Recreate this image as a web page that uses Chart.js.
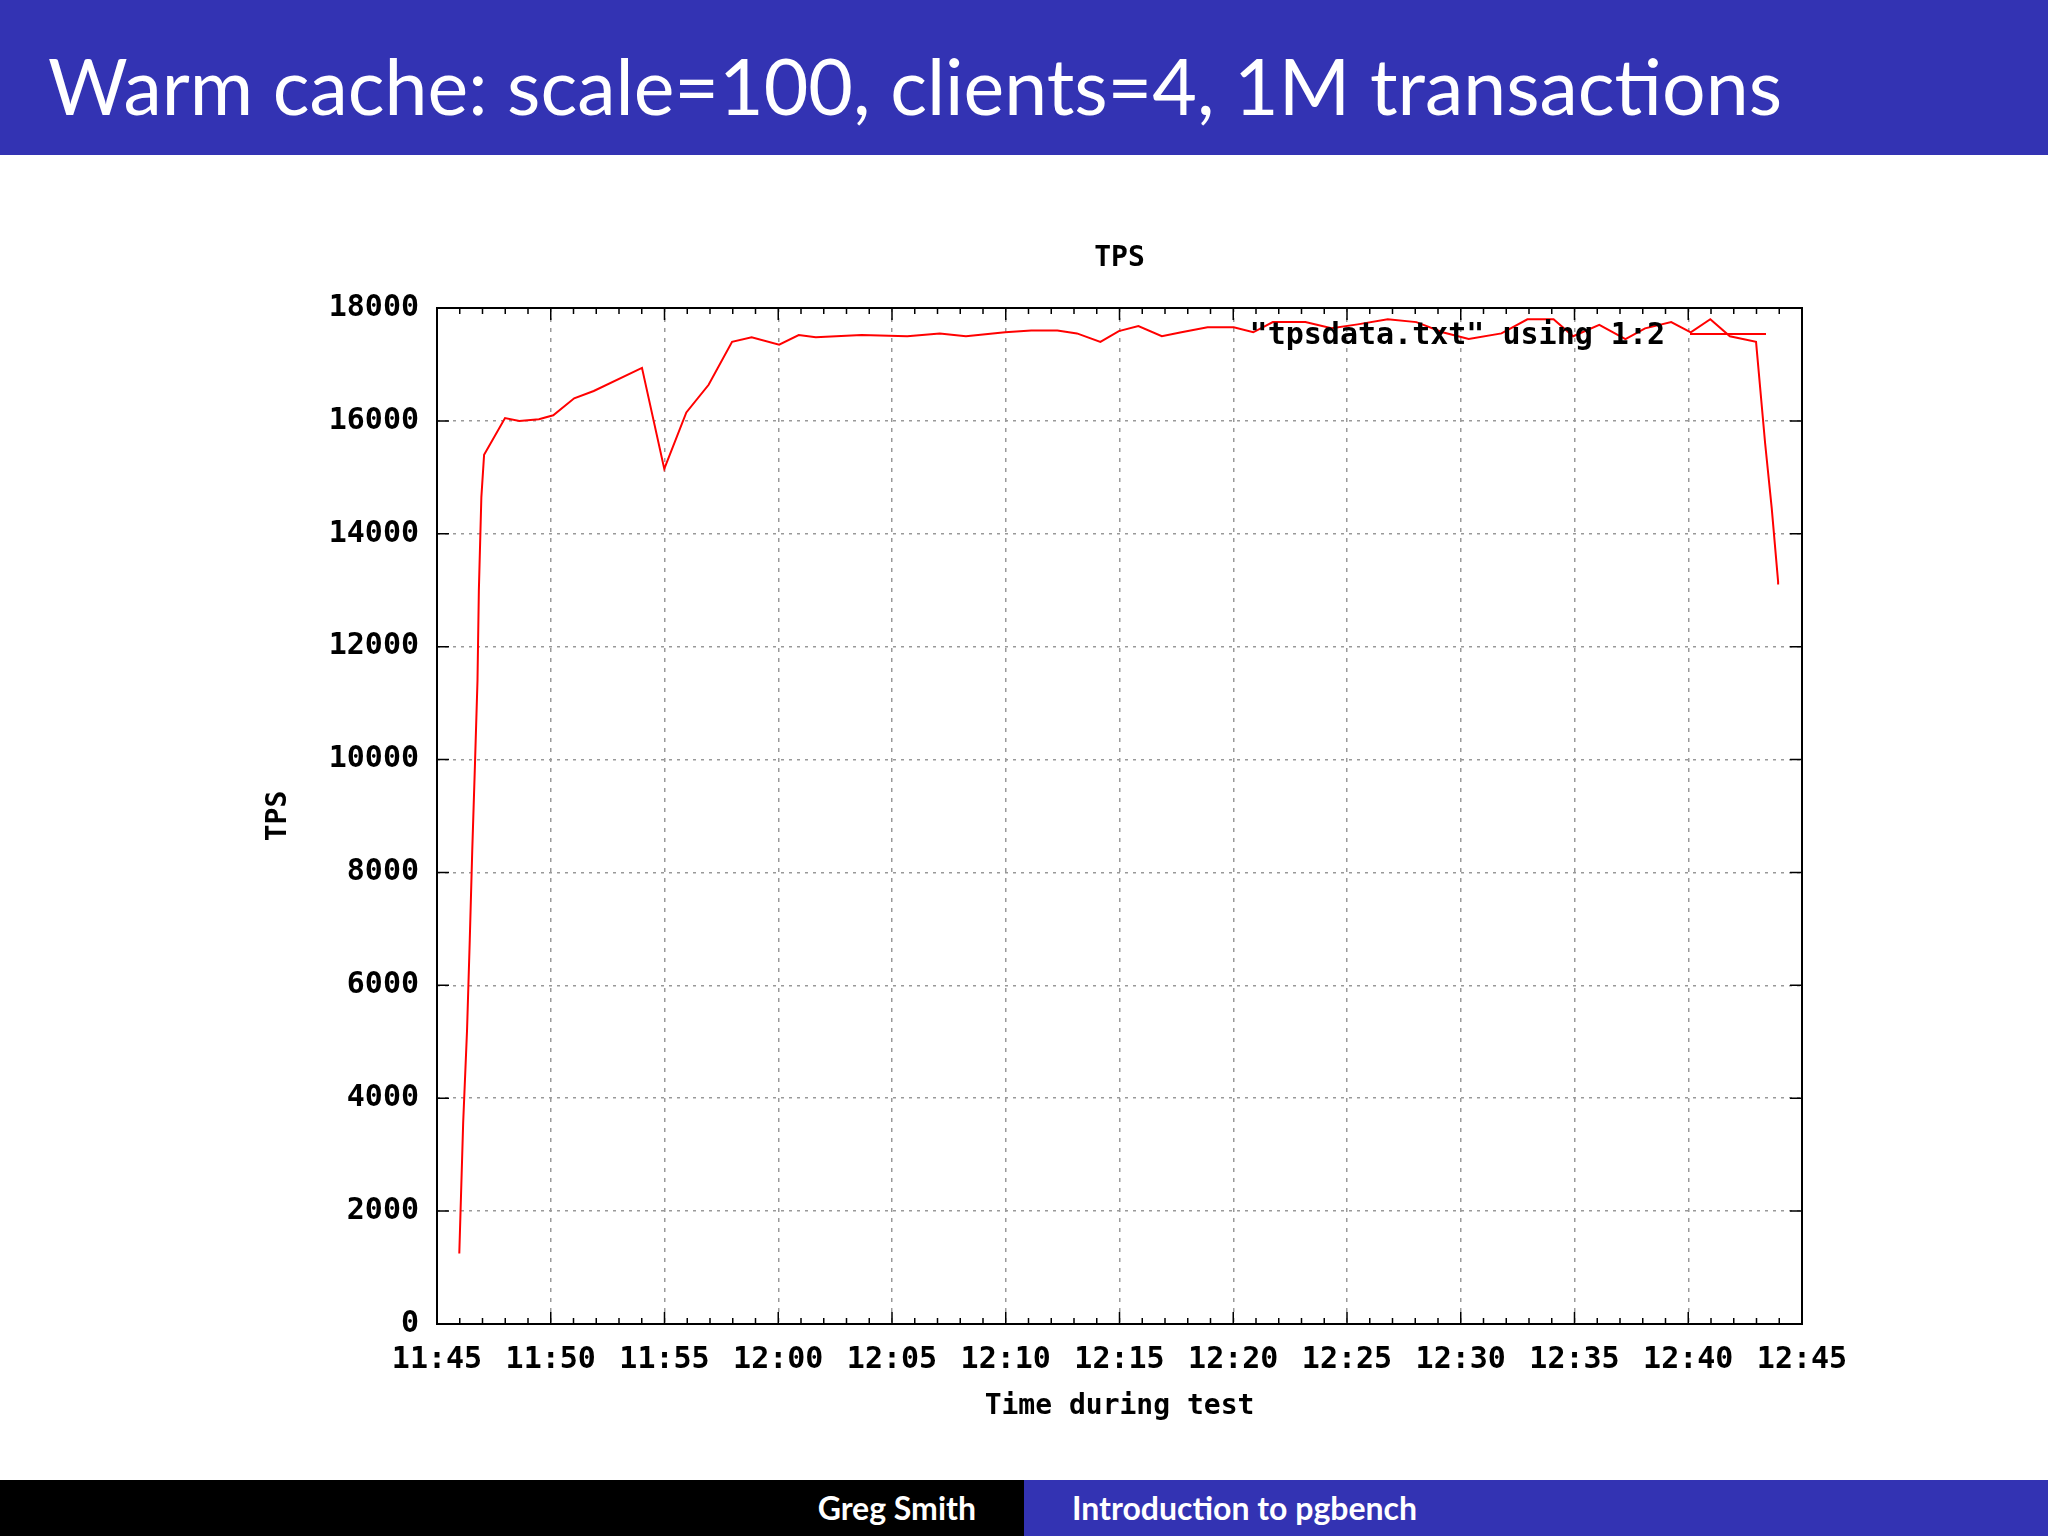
<!DOCTYPE html>
<html lang="en">
<head>
    <meta charset="UTF-8">
    <title>Warm cache</title>
    <script src="https://cdn.jsdelivr.net/npm/chart.js"></script>
    <style>
        body { margin: 0; width: 2048px; height: 1536px; position: relative; background: #fff; overflow: hidden; font-family: Lato, sans-serif; }
        .head { position: absolute; left: 0; top: 0; width: 2048px; height: 155px; background: #3333b3; color: #fff; font-size: 77px; line-height: 170px; padding-left: 48px; box-sizing: border-box; }
        .foot { position: absolute; top: 1480px; height: 56px; line-height: 56px; color: #fff; font-size: 32px; font-weight: bold; }
        #tps { position: absolute; left: 0; top: 155px; }
    </style>
</head>
<body>
    <div class="head">Warm cache: scale=100, clients=4, 1M transactions</div>
    <canvas id="tps" width="2048" height="1325"></canvas>
    <div class="foot" style="left:0;width:1024px;background:#000;text-align:right;padding-right:48px;box-sizing:border-box;">Greg Smith</div>
    <div class="foot" style="left:1024px;width:1024px;background:#3333b3;padding-left:48px;box-sizing:border-box;">Introduction to pgbench</div>

    <script>
        // minutes after 11:45 and TPS
        const minutes = [0.98, 1.15, 1.32, 1.44, 1.55, 1.66, 1.78, 1.84, 1.95, 2.07, 2.99, 3.62, 4.48, 5.11, 6.03, 6.89, 9.01, 9.99, 10.96, 11.94, 12.97, 13.83, 15.04, 15.90, 16.65, 18.66, 20.67, 22.10, 23.25, 24.97, 26.12, 27.27, 28.13, 29.16, 29.97, 30.83, 31.86, 32.72, 33.87, 35.02, 35.88, 36.74, 38.17, 39.32, 40.47, 41.79, 43.05, 44.20, 45.35, 46.79, 47.93, 49.08, 49.94, 51.09, 52.24, 53.10, 54.25, 55.11, 55.97, 56.83, 57.98, 58.38, 58.67, 58.95, 58.95];
        const tps = [1250, 3560, 5200, 6800, 8400, 9800, 11400, 13000, 14650, 15400, 16050, 16000, 16030, 16100, 16400, 16530, 16940, 15150, 16150, 16640, 17400, 17480, 17350, 17520, 17480, 17520, 17500, 17550, 17500, 17570, 17600, 17600, 17550, 17400, 17590, 17680, 17500, 17570, 17660, 17660, 17570, 17750, 17750, 17640, 17710, 17800, 17750, 17570, 17450, 17550, 17800, 17800, 17500, 17700, 17450, 17640, 17750, 17570, 17800, 17500, 17400, 15600, 14450, 13150, 13100];
        const yTicks = [0, 2000, 4000, 6000, 8000, 10000, 12000, 14000, 16000, 18000];
        const xTickLabels = ['11:45', '11:50', '11:55', '12:00', '12:05', '12:10', '12:15', '12:20', '12:25', '12:30', '12:35', '12:40', '12:45'];

        const mono = '"DejaVu Sans Mono", monospace';

        const extras = {
            id: 'extras',
            afterDraw(chart) {
                const { ctx, chartArea: a, scales } = chart;
                ctx.save();
                ctx.strokeStyle = '#000';
                ctx.lineWidth = 2;
                ctx.strokeRect(a.left, a.top, a.right - a.left, a.bottom - a.top);
                // minor x ticks every minute, major every 5
                ctx.lineWidth = 1.5;
                for (let m = 0; m <= 60; m++) {
                    const x = scales.x.getPixelForValue(m);
                    const len = m % 5 === 0 ? 12 : 6;
                    ctx.beginPath();
                    ctx.moveTo(x, a.top); ctx.lineTo(x, a.top + len);
                    ctx.moveTo(x, a.bottom); ctx.lineTo(x, a.bottom - len);
                    ctx.stroke();
                }
                yTicks.forEach(v => {
                    const y = scales.y.getPixelForValue(v);
                    ctx.beginPath();
                    ctx.moveTo(a.left, y); ctx.lineTo(a.left + 12, y);
                    ctx.moveTo(a.right, y); ctx.lineTo(a.right - 12, y);
                    ctx.stroke();
                });
                ctx.fillStyle = '#000';
                ctx.font = 'bold 28px ' + mono;
                ctx.textAlign = 'center';
                ctx.textBaseline = 'middle';
                ctx.fillText('TPS', (a.left + a.right) / 2, 104);
                ctx.fillText('Time during test', (a.left + a.right) / 2, 1252);
                ctx.save();
                ctx.translate(279, 661);
                ctx.rotate(-Math.PI / 2);
                ctx.fillText('TPS', 0, 0);
                ctx.restore();
                ctx.font = 'bold 30px ' + mono;
                ctx.textAlign = 'right';
                ctx.fillText('"tpsdata.txt" using 1:2', 1665, 181);
                ctx.strokeStyle = '#ff0000';
                ctx.lineWidth = 2;
                ctx.beginPath();
                ctx.moveTo(1690, 179); ctx.lineTo(1766, 179);
                ctx.stroke();
                ctx.restore();
            }
        };

        new Chart(document.getElementById('tps'), {
            type: 'line',
            data: {
                datasets: [{
                    data: minutes.map((m, i) => ({ x: m, y: tps[i] })),
                    borderColor: '#ff0000',
                    borderWidth: 2,
                    pointRadius: 0,
                    tension: 0
                }]
            },
            options: {
                responsive: false,
                animation: false,
                devicePixelRatio: 1,
                layout: { padding: { left: 0, right: 246, top: 153, bottom: 96 } },
                plugins: { legend: { display: false }, tooltip: { enabled: false } },
                scales: {
                    x: {
                        type: 'linear', min: 0, max: 60,
                        afterFit(s) { s.height = 60; },
                        afterBuildTicks(s) { s.ticks = xTickLabels.map((_, i) => ({ value: i * 5 })); },
                        ticks: {
                            color: '#000', font: { family: mono, size: 30, weight: 'bold' }, padding: 18, maxRotation: 0, autoSkip: false,
                            callback: (v) => xTickLabels[Math.round(v / 5)]
                        },
                        grid: { color: '#999', lineWidth: 1.5, drawTicks: false },
                        border: { display: false, dash: [4, 6] }
                    },
                    y: {
                        type: 'linear', min: 0, max: 18000,
                        afterFit(s) { s.width = 437; },
                        afterBuildTicks(s) { s.ticks = yTicks.map(v => ({ value: v })); },
                        ticks: { color: '#000', font: { family: mono, size: 30, weight: 'bold' }, padding: 18, callback: v => String(v) },
                        grid: { color: '#999', lineWidth: 1.5, drawTicks: false },
                        border: { display: false, dash: [3, 5] }
                    }
                }
            },
            plugins: [extras]
        });
    </script>
</body>
</html>
